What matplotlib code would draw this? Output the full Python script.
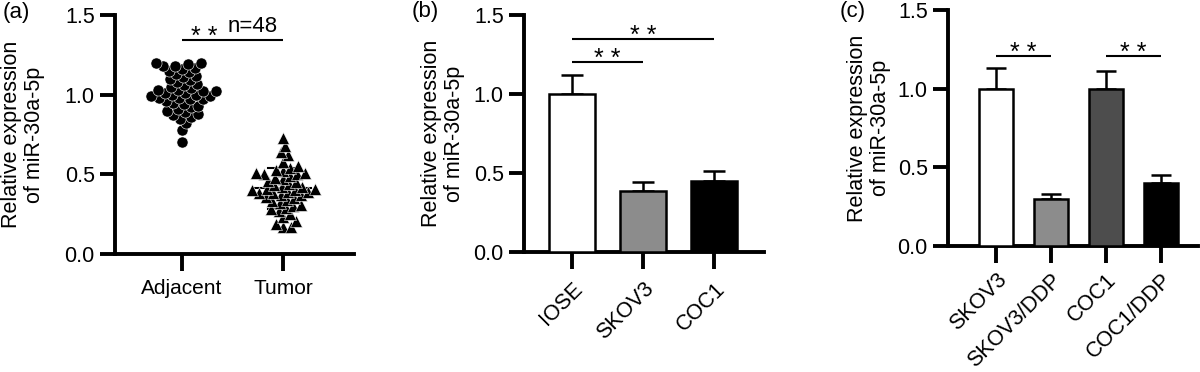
import numpy as np
import matplotlib
matplotlib.use("Agg")
import matplotlib.pyplot as plt

plt.rcParams['font.family'] = ['Liberation Sans', 'DejaVu Sans']

# ---------------- data ----------------
groups_a = ["Adjacent", "Tumor"]
adjacent = [0.70, 0.78, 0.82, 0.85, 0.86, 0.87, 0.88, 0.89, 0.90, 0.91, 0.92, 0.93,
            0.94, 0.95, 0.96, 0.97, 0.97, 0.98, 0.98, 0.99, 0.99, 1.00, 1.00, 1.01,
            1.01, 1.02, 1.02, 1.03, 1.03, 1.04, 1.05, 1.06, 1.07, 1.08, 1.09, 1.10,
            1.11, 1.12, 1.13, 1.14, 1.15, 1.16, 1.17, 1.18, 1.18, 1.19, 1.20, 1.20]
tumor = [0.17, 0.17, 0.19, 0.21, 0.23, 0.25, 0.27, 0.28, 0.29, 0.30, 0.31, 0.32,
         0.33, 0.34, 0.35, 0.36, 0.37, 0.37, 0.38, 0.38, 0.39, 0.39, 0.40, 0.40,
         0.41, 0.41, 0.42, 0.42, 0.43, 0.44, 0.45, 0.46, 0.47, 0.48, 0.49, 0.50,
         0.50, 0.51, 0.51, 0.52, 0.53, 0.54, 0.55, 0.58, 0.62, 0.64, 0.68, 0.73]

cats_b = ["IOSE", "SKOV3", "COC1"]
vals_b = [1.00, 0.385, 0.45]
errs_b = [0.12, 0.055, 0.06]
colors_b = ["#ffffff", "#8c8c8c", "#000000"]

cats_c = ["SKOV3", "SKOV3/DDP", "COC1", "COC1/DDP"]
vals_c = [1.00, 0.30, 1.00, 0.40]
errs_c = [0.13, 0.03, 0.11, 0.05]
colors_c = ["#ffffff", "#8c8c8c", "#4d4d4d", "#000000"]

yticks = [0.0, 0.5, 1.0, 1.5]
ylabel = "Relative expression\nof miR-30a-5p"

FS = 15
LW = 2.8
W, H = 1200, 372
fig = plt.figure(figsize=(12, 3.72), dpi=100)


def px_axes(l, r, top, bot):
    return fig.add_axes([l / W, 1 - bot / H, (r - l) / W, (bot - top) / H])


def style(ax, xlim, label_x):
    ax.set_ylim(0, 1.5)
    ax.set_xlim(*xlim)
    ax.set_yticks(yticks)
    ax.set_yticklabels([f"{t:.1f}" for t in yticks], fontsize=FS + 0.5)
    for s in ("top", "right"):
        ax.spines[s].set_visible(False)
    for s in ("left", "bottom"):
        ax.spines[s].set_linewidth(LW)
        ax.spines[s].set_capstyle("projecting")
    ax.tick_params(axis="y", direction="out", length=10.5, width=LW, pad=4)
    ax.tick_params(axis="x", direction="out", length=12, width=LW)
    ax.set_ylabel(ylabel, fontsize=FS + 0.5, linespacing=1.15)
    ax.yaxis.set_label_coords(label_x, 0.5)
    ax.patch.set_alpha(0)


def px_per_unit_y(ax):
    bb = ax.get_position()
    return bb.height * H / 1.5


def sig(ax, x0, x1, y, text="* *", dx=0.0):
    ax.plot([x0, x1], [y, y], color="black", lw=1.5, clip_on=False,
            solid_capstyle="butt")
    fs = 18
    center_px = 10.5                      # glyph centre above the line
    glyph_c = 0.58 * fs * 100 / 72        # asterisk centre above baseline
    yb = y + (center_px - glyph_c) / px_per_unit_y(ax)
    ax.text((x0 + x1) / 2 + dx, yb, text, ha="center", va="baseline",
            fontsize=fs, clip_on=False)


def swarm(vals, xscale, yscale, d):
    order = np.argsort(vals)
    placed = []
    offs = np.zeros(len(vals))
    for i in order:
        y = vals[i] * yscale
        k = 0
        while True:
            x = (k + 1) // 2 * 0.5 * (1 if k % 2 else -1)
            if all((x - px) ** 2 + (y - py) ** 2 >= d * d for px, py in placed):
                break
            k += 1
        placed.append((x, y))
        offs[i] = x / xscale
    return offs


# ---------------- panel a ----------------
la, ra, ta, ba = 115, 354, 15, 254
axa = px_axes(la, ra, ta, ba)
xlim_a = (-0.66, 1.70)
style(axa, xlim_a, (45 - la) / (ra - la))
xs = (ra - la) / (xlim_a[1] - xlim_a[0])
ys = (ba - ta) / 1.5
for gi, (vals, mk) in enumerate([(adjacent, "o"), (tumor, "^")]):
    v = np.array(vals)
    offs = swarm(v, xs, ys, 7.6)
    m, sd = v.mean(), v.std(ddof=1)
    axa.plot([gi - 0.28, gi + 0.28], [m, m], color="black", lw=1.5, zorder=2)
    axa.plot([gi - 0.15, gi + 0.15], [m + sd, m + sd], color="black", lw=1.5, zorder=2)
    axa.plot([gi - 0.15, gi + 0.15], [m - sd, m - sd], color="black", lw=1.5, zorder=2)
    axa.plot([gi, gi], [m - sd, m + sd], color="black", lw=1.5, zorder=2)
    axa.plot(gi + offs, v, linestyle="none", marker=mk, ms=8 if mk == "o" else 8.5,
             mfc="black", mec="white", mew=0.4, zorder=3, clip_on=False)
axa.set_xticks(range(len(groups_a)))
axa.set_xticklabels(groups_a, fontsize=FS)
axa.tick_params(axis="x", pad=6)
sig(axa, 0, 1, 1.34, dx=-0.28)
axa.text(0.70, 1.34 + 8 / ys, "n=48", ha="center", va="baseline", fontsize=FS + 1)

# ---------------- panel b ----------------
lb, rb, tb, bb = 524, 764, 15, 252
axb = px_axes(lb, rb, tb, bb)
style(axb, (-0.67, 2.70), (465 - lb) / (rb - lb))
xb = np.arange(len(cats_b))
axb.bar(xb, vals_b, width=0.65, color=colors_b, edgecolor="black", linewidth=1.8,
        zorder=3, yerr=[np.zeros(len(errs_b)), errs_b], capsize=8,
        error_kw=dict(elinewidth=1.8, capthick=1.8, ecolor="black", zorder=2))
axb.set_xticks(xb)
axb.set_xticklabels(cats_b, fontsize=FS + 0.5, rotation=45, ha="right",
                    rotation_mode="anchor")
axb.tick_params(axis="x", pad=7)
sig(axb, 0, 1, 1.20)
sig(axb, 0, 2, 1.35)

# ---------------- panel c ----------------
lc, rc, tc, bc = 948, 1198, 10, 246
axc = px_axes(lc, rc, tc, bc)
style(axc, (-0.87, 3.67), (891 - lc) / (rc - lc))
xc = np.arange(len(cats_c))
axc.bar(xc, vals_c, width=0.62, color=colors_c, edgecolor="black", linewidth=1.8,
        zorder=3, yerr=[np.zeros(len(errs_c)), errs_c], capsize=7,
        error_kw=dict(elinewidth=1.8, capthick=1.8, ecolor="black", zorder=2))
axc.set_xticks(xc)
axc.set_xticklabels(cats_c, fontsize=FS + 0.5, rotation=45, ha="right",
                    rotation_mode="anchor")
axc.tick_params(axis="x", pad=5)
sig(axc, 0, 1, 1.21)
sig(axc, 2, 3, 1.21)

# panel labels
for txt, x, y in [("(a)", 3, 2), ("(b)", 412, 1), ("(c)", 840, 1)]:
    fig.text(x / W, 1 - y / H, txt, fontsize=FS + 1, ha="left", va="top")

fig.savefig("out.png", dpi=100)
